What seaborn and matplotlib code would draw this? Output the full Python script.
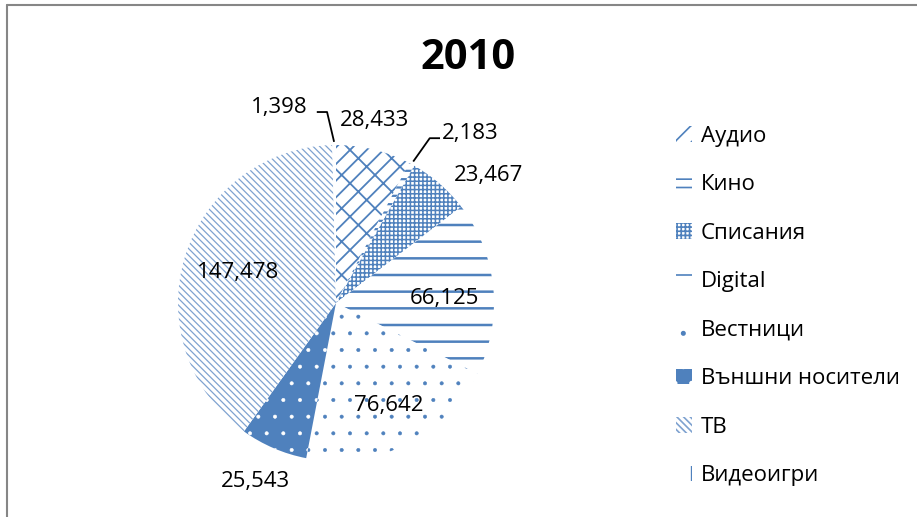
"""2010 media revenue pie, hatched slices in the Office blue."""

import matplotlib

matplotlib.use("Agg")
import matplotlib.pyplot as plt
import numpy as np
import seaborn as sns
from matplotlib.lines import Line2D
from matplotlib.patches import Patch

TITLE = "2010"
CATEGORIES = ["Аудио", "Кино", "Списания", "Digital", "Вестници",
              "Външни носители", "ТВ", "Видеоигри"]
VALUES = [28433, 2183, 23467, 66125, 76642, 25543, 147478, 1398]

BLUE = "#4F81BD"
BS = chr(92)  # backslash hatch
# face colour, hatch colour, hatch, hatch linewidth
SLICE_STYLES = [
    ("white", BLUE, "/x", 1.3),
    ("white", BLUE, "--", 1.6),
    ("white", BLUE, "++++", 1.1),
    ("white", BLUE, "-", 1.8),
    ("white", BLUE, ".", 0.4),
    (BLUE, "white", ".", 0.4),
    ("white", "#7FA2D0", BS * 5, 0.9),
    ("white", BLUE, "|", 1.3),
]
# per label: angle nudge (deg), radial distance, leader line
LABEL_LAYOUT = [
    (2, 1.18, False),
    (-1, 1.20, True),
    (-9, 1.26, False),
    (-3, 0.69, False),
    (1, 0.73, False),
    (-1, 1.24, False),
    (0, 0.65, False),
    (2, 1.21, True),
]

sns.set_theme(style="white")
plt.rcParams["font.family"] = ["Open Sans", "DejaVu Sans"]
plt.rcParams["text.color"] = "black"
plt.rcParams["hatch.linewidth"] = 1.2

W, H = 917, 517
fig = plt.figure(figsize=(W / 100, H / 100), dpi=100)

cx, cy, r = 336, 303, 158
ax = fig.add_axes([(cx - r) / W, (H - cy - r) / H, 2 * r / W, 2 * r / H])
wedges, _ = ax.pie(VALUES, startangle=90, counterclock=False, radius=1,
                   wedgeprops=dict(linewidth=0))


def style_patch(p, face, hcol, hatch, hlw):
    p.set_facecolor(face)
    p.set_edgecolor(hcol)
    p.set_hatch(hatch)
    if hasattr(p, "set_hatch_linewidth"):
        p.set_hatch_linewidth(hlw)


for w, st in zip(wedges, SLICE_STYLES):
    style_patch(w, *st)
ax.set_xlim(-1, 1)
ax.set_ylim(-1, 1)
ax.axis("off")

for w, val, (nudge, dist, leader) in zip(wedges, VALUES, LABEL_LAYOUT):
    mid = np.deg2rad((w.theta1 + w.theta2) / 2)
    text = f"{val:,}"
    if leader:
        x0, y0 = 1.02 * np.cos(mid), 1.02 * np.sin(mid)
        ang = mid + np.deg2rad(nudge)
        ex, ey = dist * np.cos(ang), dist * np.sin(ang)
        side = 1 if np.cos(mid) > 0.05 else -1
        hx = ex + side * 0.065
        ax.plot([x0, ex, hx], [y0, ey, ey], color="black", lw=1.3,
                clip_on=False, solid_capstyle="butt")
        gap = 0.015 if side > 0 else 0.06
        ax.text(hx + side * gap, ey + 0.03, text, fontsize=16,
                ha="left" if side > 0 else "right", va="center")
    else:
        ang = mid + np.deg2rad(nudge)
        ax.text(dist * np.cos(ang), dist * np.sin(ang), text, fontsize=16,
                ha="center", va="center")

handles = []
for st in SLICE_STYLES:
    p = Patch(linewidth=0)
    style_patch(p, *st)
    handles.append(p)
fig.legend(handles, CATEGORIES, loc="center left",
           bbox_to_anchor=(665 / W, 1 - 306 / H), frameon=False,
           fontsize=16, handlelength=0.7, handleheight=0.7,
           handletextpad=0.4, labelspacing=1.24, borderpad=0)

fig.text(468 / W, 1 - 58 / H, TITLE, fontsize=30, fontweight="bold",
         ha="center", va="center")

# chart area border (only top and left edges are inside the crop)
fig.add_artist(Line2D([7 / W, 1], [1 - 5 / H, 1 - 5 / H], color="#868686", lw=1.5))
fig.add_artist(Line2D([7 / W, 7 / W], [0, 1 - 5 / H], color="#868686", lw=1.5))

fig.savefig("out.png", dpi=100)
plt.close(fig)
